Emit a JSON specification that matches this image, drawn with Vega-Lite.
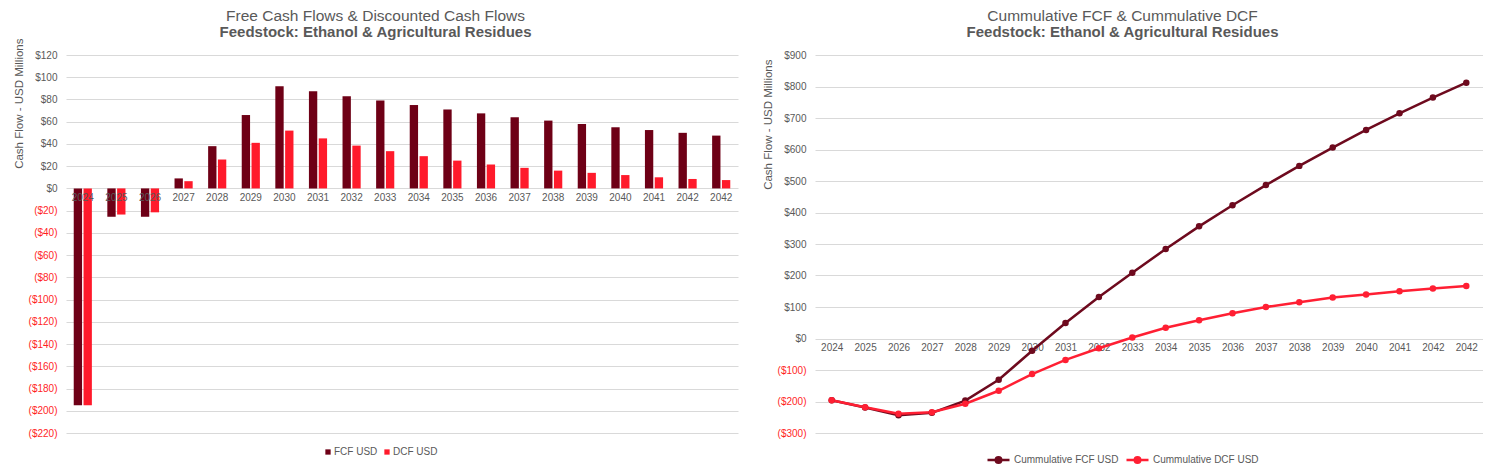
{
  "$schema": "https://vega.github.io/schema/vega-lite/v6.json",
  "background": "white",
  "padding": {"left": 13, "top": 8, "right": 0, "bottom": 0},
  "spacing": 24,
  "resolve": {"scale": {"color": "independent"}, "legend": {"color": "independent"}},
  "config": {
    "font": "Liberation Sans",
    "view": {"stroke": null},
    "axis": {
      "labelFont": "Liberation Sans", "labelFontSize": 10, "labelColor": "#595959",
      "titleFont": "Liberation Sans", "titleFontWeight": "normal", "titleColor": "#595959", "titleFontSize": 11.5,
      "gridColor": "#D9D9D9", "gridWidth": 1, "ticks": false, "domain": false
    },
    "title": {
      "font": "Liberation Sans", "fontSize": 15.5, "fontWeight": "normal", "color": "#595959",
      "subtitleFont": "Liberation Sans", "subtitleFontSize": 15, "subtitleFontWeight": "bold", "subtitleColor": "#595959",
      "subtitlePadding": 1, "anchor": "middle", "frame": "bounds"
    },
    "legend": {"labelFont": "Liberation Sans", "labelFontSize": 10, "labelColor": "#595959", "padding": 0}
  },
  "datasets": {
    "bars": [
      {"year": "2024", "series": "FCF USD", "value": -195}, {"year": "2024", "series": "DCF USD", "value": -195},
      {"year": "2025", "series": "FCF USD", "value": -25.5}, {"year": "2025", "series": "DCF USD", "value": -23.5},
      {"year": "2026", "series": "FCF USD", "value": -25.5}, {"year": "2026", "series": "DCF USD", "value": -21.5},
      {"year": "2027", "series": "FCF USD", "value": 9}, {"year": "2027", "series": "DCF USD", "value": 6.5},
      {"year": "2028", "series": "FCF USD", "value": 38}, {"year": "2028", "series": "DCF USD", "value": 26},
      {"year": "2029", "series": "FCF USD", "value": 66}, {"year": "2029", "series": "DCF USD", "value": 41},
      {"year": "2030", "series": "FCF USD", "value": 92}, {"year": "2030", "series": "DCF USD", "value": 52},
      {"year": "2031", "series": "FCF USD", "value": 87.5}, {"year": "2031", "series": "DCF USD", "value": 45},
      {"year": "2032", "series": "FCF USD", "value": 83}, {"year": "2032", "series": "DCF USD", "value": 38.5},
      {"year": "2033", "series": "FCF USD", "value": 79}, {"year": "2033", "series": "DCF USD", "value": 33.5},
      {"year": "2034", "series": "FCF USD", "value": 75}, {"year": "2034", "series": "DCF USD", "value": 29},
      {"year": "2035", "series": "FCF USD", "value": 71}, {"year": "2035", "series": "DCF USD", "value": 25},
      {"year": "2036", "series": "FCF USD", "value": 67.5}, {"year": "2036", "series": "DCF USD", "value": 21.5},
      {"year": "2037", "series": "FCF USD", "value": 64}, {"year": "2037", "series": "DCF USD", "value": 18.5},
      {"year": "2038", "series": "FCF USD", "value": 61}, {"year": "2038", "series": "DCF USD", "value": 16},
      {"year": "2039", "series": "FCF USD", "value": 58}, {"year": "2039", "series": "DCF USD", "value": 14},
      {"year": "2040", "series": "FCF USD", "value": 55}, {"year": "2040", "series": "DCF USD", "value": 12},
      {"year": "2041", "series": "FCF USD", "value": 52.5}, {"year": "2041", "series": "DCF USD", "value": 10},
      {"year": "2042", "series": "FCF USD", "value": 50}, {"year": "2042", "series": "DCF USD", "value": 8.5},
      {"year": "2042 ", "series": "FCF USD", "value": 47.5}, {"year": "2042 ", "series": "DCF USD", "value": 7.5}
    ],
    "lines": [
      {"year": "2024", "series": "Cummulative FCF USD", "value": -196}, {"year": "2024", "series": "Cummulative DCF USD", "value": -196},
      {"year": "2025", "series": "Cummulative FCF USD", "value": -219}, {"year": "2025", "series": "Cummulative DCF USD", "value": -218},
      {"year": "2026", "series": "Cummulative FCF USD", "value": -244}, {"year": "2026", "series": "Cummulative DCF USD", "value": -239},
      {"year": "2027", "series": "Cummulative FCF USD", "value": -236}, {"year": "2027", "series": "Cummulative DCF USD", "value": -234},
      {"year": "2028", "series": "Cummulative FCF USD", "value": -197}, {"year": "2028", "series": "Cummulative DCF USD", "value": -207},
      {"year": "2029", "series": "Cummulative FCF USD", "value": -131}, {"year": "2029", "series": "Cummulative DCF USD", "value": -166},
      {"year": "2030", "series": "Cummulative FCF USD", "value": -39}, {"year": "2030", "series": "Cummulative DCF USD", "value": -113},
      {"year": "2031", "series": "Cummulative FCF USD", "value": 49}, {"year": "2031", "series": "Cummulative DCF USD", "value": -68},
      {"year": "2032", "series": "Cummulative FCF USD", "value": 132}, {"year": "2032", "series": "Cummulative DCF USD", "value": -31},
      {"year": "2033", "series": "Cummulative FCF USD", "value": 209}, {"year": "2033", "series": "Cummulative DCF USD", "value": 3},
      {"year": "2034", "series": "Cummulative FCF USD", "value": 284}, {"year": "2034", "series": "Cummulative DCF USD", "value": 34},
      {"year": "2035", "series": "Cummulative FCF USD", "value": 356}, {"year": "2035", "series": "Cummulative DCF USD", "value": 58},
      {"year": "2036", "series": "Cummulative FCF USD", "value": 423}, {"year": "2036", "series": "Cummulative DCF USD", "value": 80},
      {"year": "2037", "series": "Cummulative FCF USD", "value": 487}, {"year": "2037", "series": "Cummulative DCF USD", "value": 100},
      {"year": "2038", "series": "Cummulative FCF USD", "value": 548}, {"year": "2038", "series": "Cummulative DCF USD", "value": 115},
      {"year": "2039", "series": "Cummulative FCF USD", "value": 606}, {"year": "2039", "series": "Cummulative DCF USD", "value": 130},
      {"year": "2040", "series": "Cummulative FCF USD", "value": 662}, {"year": "2040", "series": "Cummulative DCF USD", "value": 140},
      {"year": "2041", "series": "Cummulative FCF USD", "value": 715}, {"year": "2041", "series": "Cummulative DCF USD", "value": 150},
      {"year": "2042", "series": "Cummulative FCF USD", "value": 765}, {"year": "2042", "series": "Cummulative DCF USD", "value": 159},
      {"year": "2042 ", "series": "Cummulative FCF USD", "value": 812}, {"year": "2042 ", "series": "Cummulative DCF USD", "value": 167}
    ]
  },
  "hconcat": [
    {
      "width": 672,
      "height": 378,
      "title": {"text": "Free Cash Flows & Discounted Cash Flows", "subtitle": "Feedstock: Ethanol & Agricultural Residues", "offset": -2},
      "data": {"name": "bars"},
      "mark": {"type": "bar"},
      "encoding": {
        "x": {
          "field": "year", "type": "nominal", "sort": null,
          "scale": {"paddingInner": 0.46, "paddingOuter": 0.23},
          "axis": {"title": null, "labelAngle": 0, "offset": -244.4, "labelPadding": 4, "grid": false, "zindex": 1, "labelExpr": "trim(datum.value)"}
        },
        "xOffset": {"field": "series", "type": "nominal", "sort": ["FCF USD", "DCF USD"], "scale": {"paddingInner": 0.15}},
        "y": {
          "field": "value", "type": "quantitative",
          "scale": {"domain": [-220, 120], "nice": false, "zero": false},
          "axis": {
            "title": "Cash Flow - USD Millions",
            "values": [-220, -200, -180, -160, -140, -120, -100, -80, -60, -40, -20, 0, 20, 40, 60, 80, 100, 120],
            "labelExpr": "datum.value < 0 ? '($' + (-datum.value) + ')' : '$' + datum.value",
            "labelColor": {"condition": {"test": "datum.value < 0", "value": "#FF1F1F"}, "value": "#595959"},
            "labelPadding": 9, "titlePadding": 4, "titleAnchor": "end", "titleY": -17
          }
        },
        "color": {
          "field": "series", "type": "nominal",
          "scale": {"domain": ["FCF USD", "DCF USD"], "range": ["#6E0016", "#FF1A2B"]},
          "legend": {
            "title": null, "orient": "none", "legendX": 257, "legendY": 392, "direction": "horizontal",
            "symbolType": "square", "symbolSize": 28, "labelOffset": 1, "columnPadding": 4
          }
        }
      }
    },
    {
      "width": 668,
      "height": 378,
      "title": {"text": "Cummulative FCF & Cummulative DCF", "subtitle": "Feedstock: Ethanol & Agricultural Residues", "offset": 10},
      "data": {"name": "lines"},
      "mark": {"type": "line", "strokeWidth": 2.5, "point": {"filled": true, "size": 42}},
      "encoding": {
        "x": {
          "field": "year", "type": "nominal", "sort": null,
          "scale": {"type": "point", "padding": 0.5},
          "axis": {"title": null, "labelAngle": 0, "offset": -94.4, "labelPadding": 4, "grid": false, "labelExpr": "trim(datum.value)"}
        },
        "y": {
          "field": "value", "type": "quantitative",
          "scale": {"domain": [-300, 900], "nice": false, "zero": false},
          "axis": {
            "title": "Cash Flow - USD  Millions",
            "values": [-300, -200, -100, 0, 100, 200, 300, 400, 500, 600, 700, 800, 900],
            "labelExpr": "datum.value < 0 ? '($' + (-datum.value) + ')' : '$' + datum.value",
            "labelColor": {"condition": {"test": "datum.value < 0", "value": "#FF1F1F"}, "value": "#595959"},
            "labelPadding": 9, "titlePadding": 4, "titleAnchor": "end", "titleY": 4
          }
        },
        "color": {
          "field": "series", "type": "nominal",
          "scale": {"domain": ["Cummulative FCF USD", "Cummulative DCF USD"], "range": ["#6E0A1E", "#FF1F33"]},
          "legend": {
            "title": null, "orient": "none", "legendX": 171, "legendY": 392, "direction": "horizontal",
            "symbolType": "M-1,0L1,0M-0.25,0a0.25,0.25 0 1,0 0.5,0a0.25,0.25 0 1,0 -0.5,0",
            "symbolSize": 484, "symbolStrokeWidth": 2.5, "labelOffset": 3, "columnPadding": 2
          }
        }
      }
    }
  ]
}
